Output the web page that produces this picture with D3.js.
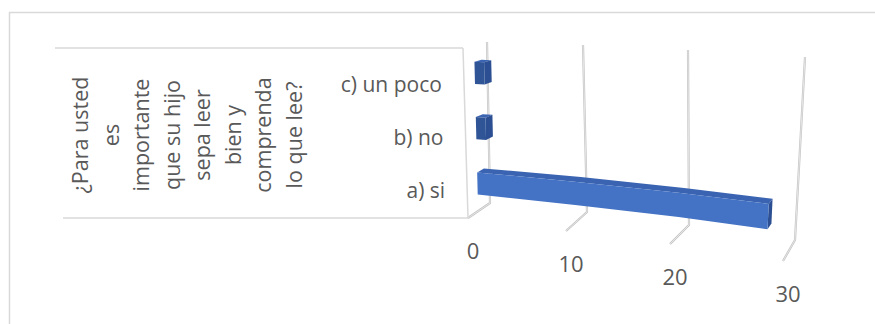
<!DOCTYPE html>
<html>
<head>
<meta charset="utf-8">
<script src="https://cdn.jsdelivr.net/npm/d3@7"></script>
<style>
  html, body { margin: 0; padding: 0; background: #ffffff; }
  svg { display: block; }
  text { font-family: "Open Sans", "Noto Sans", sans-serif; fill: #595959; }
</style>
</head>
<body>
<svg id="chart" width="875" height="324"></svg>
<script>
// ---- data ----
const categories = ["a) si", "b) no", "c) un poco"];
const values = [28, 1, 1];
const tickValues = [0, 10, 20, 30];
const tickLabels = ["0", "10", "20", "30"];
const groupLabelLines = ["¿Para usted", "es", "importante", "que su hijo", "sepa leer", "bien y", "comprenda", "lo que lee?"];

const svg = d3.select("#chart");

// ---- outer chart border ----
svg.append("rect")
  .attr("x", 9.5).attr("y", 12.5)
  .attr("width", 900).attr("height", 400)
  .attr("fill", "none").attr("stroke", "#d9d9d9").attr("stroke-width", 1.5);

// ---- 3D perspective projection built from scales ----
const dom = tickValues;
const bbx = d3.scaleLinear().domain(dom).range([490, 587, 689, 795]);
const bby = d3.scaleLinear().domain(dom).range([203, 212, 225, 240]);
const btx = d3.scaleLinear().domain(dom).range([487, 583, 688, 805]);
const bty = d3.scaleLinear().domain(dom).range([42, 45, 50, 57]);
const fbx = d3.scaleLinear().domain(dom).range([468, 566, 670, 783]);
const fby = d3.scaleLinear().domain(dom).range([218, 231, 244, 261]);
const ftx = d3.scaleLinear().domain(dom).range([463, 560, 668, 797]);
const fty = d3.scaleLinear().domain(dom).range([48, 52, 56, 63]);

function project(v, h, d) {
  const backX = bbx(v) + (btx(v) - bbx(v)) * h;
  const backY = bby(v) + (bty(v) - bby(v)) * h;
  const frontX = fbx(v) + (ftx(v) - fbx(v)) * h;
  const frontY = fby(v) + (fty(v) - fby(v)) * h;
  return [backX + (frontX - backX) * d, backY + (frontY - backY) * d];
}

// category (height) scale: Excel gap width 150%
const hScale = d3.scaleBand().domain(categories).range([0, 1]).paddingInner(0.6).paddingOuter(0.3);
const depthBack = 0.24, depthFront = 0.54;

const line = d3.line();

// ---- gridlines (back wall vertical + floor) ----
const grid = svg.append("g").attr("fill", "none").attr("stroke-linejoin", "round");
tickValues.forEach(v => {
  const pts = [project(v, 1, 0), project(v, 0, 0), project(v, 0, 1)];
  grid.append("path").attr("d", line(pts)).attr("stroke", "#c4c4c4").attr("stroke-width", 2.2);
  grid.append("path").attr("d", line(pts)).attr("stroke", "#ececec").attr("stroke-width", 0.8);
});

// side wall front edge (v = 0, front)
const axisG = svg.append("g").attr("fill", "none").attr("stroke", "#d9d9d9").attr("stroke-width", 1.5);
axisG.append("path").attr("d", line([project(0, 1, 1), project(0, 0, 1)]));

// category table lines
const topCorner = project(0, 1, 1), botCorner = project(0, 0, 1);
axisG.append("path").attr("d", line([[55, topCorner[1]], topCorner]));
axisG.append("path").attr("d", line([[63, botCorner[1]], botCorner]));

// ---- bars ----
function ticksUpTo(val) {
  return [0].concat(tickValues.filter(t => t > 0 && t < val)).concat([val]);
}
const barsG = svg.append("g");
categories.forEach((c, i) => {
  const val = values[i];
  const h0 = hScale(c), h1 = h0 + hScale.bandwidth();
  const vs = ticksUpTo(val);
  const vr = vs.slice().reverse();
  const top = vs.map(v => project(v, h1, depthBack)).concat(vr.map(v => project(v, h1, depthFront)));
  const front = vs.map(v => project(v, h0, depthFront)).concat(vr.map(v => project(v, h1, depthFront)));
  const end = [project(val, h0, depthFront), project(val, h0, depthBack), project(val, h1, depthBack), project(val, h1, depthFront)];
  barsG.append("path").attr("d", line(top) + "Z").attr("fill", "#3a64b2");
  barsG.append("path").attr("d", line(end) + "Z").attr("fill", "#2b4f92");
  barsG.append("path").attr("d", line(front) + "Z").attr("fill", val < 5 ? "#2f5597" : "#4472c4");
});

// ---- value axis tick labels ----
tickValues.forEach((v, i) => {
  const p = project(v, 0, 1);
  svg.append("text")
    .attr("x", p[0] + 5).attr("y", p[1] + 41)
    .attr("text-anchor", "middle")
    .attr("font-size", 22)
    .text(tickLabels[i]);
});

// ---- category labels ----
const labelY = d3.scalePoint().domain(categories).range([191, 85]);
categories.forEach(c => {
  const h = hScale(c) + hScale.bandwidth() / 2;
  const p = project(0, h, 1);
  svg.append("text")
    .attr("x", p[0] - 22).attr("y", labelY(c))
    .attr("dy", "0.35em")
    .attr("text-anchor", "end")
    .attr("font-size", 21)
    .text(c);
});

// ---- group (rotated) label ----
const groupX = d3.scaleLinear().domain([0, groupLabelLines.length - 1]).range([88, 302]);
groupLabelLines.forEach((t, i) => {
  svg.append("text")
    .attr("transform", `translate(${groupX(i)},135) rotate(-90)`)
    .attr("text-anchor", "middle")
    .attr("font-size", 21.5)
    .text(t);
});
</script>
</body>
</html>
